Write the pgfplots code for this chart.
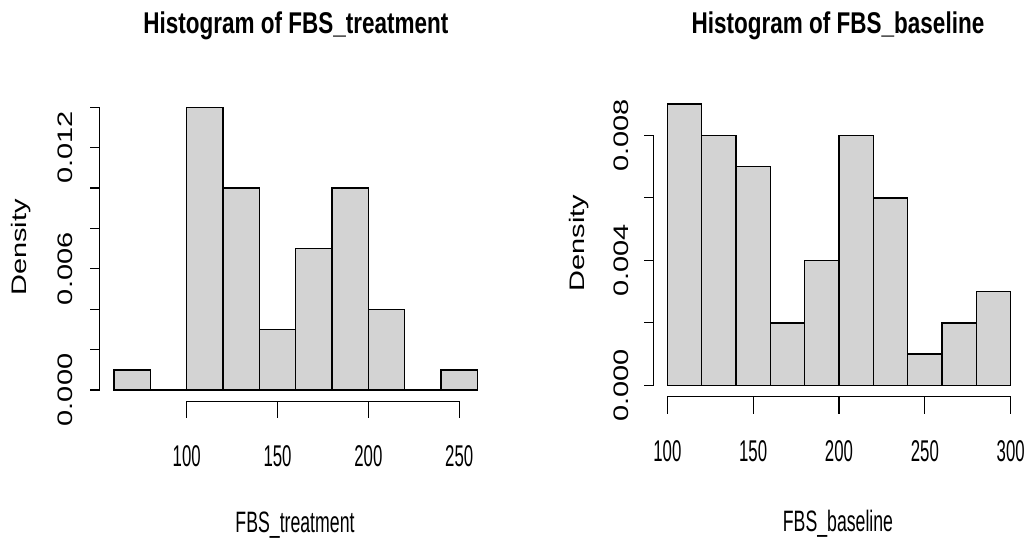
\documentclass[border=0pt]{standalone}
\usepackage{graphicx}
\usepackage{fontspec}
\setmainfont{Liberation Sans}
\usepackage{pgfplots}
\pgfplotsset{compat=1.18}

\definecolor{barfill}{RGB}{211,211,211}

% R draws this picture stretched vertically, so text is squeezed sideways
\newcommand\tit[1]{{\fontsize{30}{36}\selectfont\scalebox{0.75}[1]{\bfseries #1}}}
\newcommand\xl[1]{{\fontsize{30}{36}\selectfont\scalebox{0.56}[1]{#1}}}
\newcommand\yl[1]{{\fontsize{21}{25}\selectfont\scalebox{1.38}[1]{#1}}}
\newcommand\lab[1]{{\fontsize{29.5}{35}\selectfont\scalebox{0.6}[1]{#1}}}

\pgfplotsset{
  rhist/.style={scale only axis, clip=false, hide axis, enlargelimits=false,
    anchor=south west},
  bars/.style={ybar interval, fill=barfill, draw=black, line width=1.4pt},
}
\tikzset{axl/.style={black, line width=1.3pt}}

\begin{document}
\begin{tikzpicture}
\path[use as bounding box] (0,0) rectangle (1026pt,539pt);

% ---- left: FBS_treatment
\begin{axis}[rhist, at={(99.5pt,137.7pt)}, width=392.4pt, height=305.3pt,
  xmin=52, xmax=268, ymin=-0.00056, ymax=0.01456]
\addplot[bars] coordinates {
  (60,0.001) (80,0) (100,0.014) (120,0.010) (140,0.003)
  (160,0.007) (180,0.010) (200,0.004) (220,0) (240,0.001) (260,0.001)};
\draw[axl] (axis cs:100,-0.00056) -- (axis cs:250,-0.00056);
\pgfplotsinvokeforeach{100,150,200,250}{
  \draw[axl] (axis cs:#1,-0.00056) -- ++(0pt,-17pt);
  \node[anchor=center] at ([yshift=-54.5pt]axis cs:#1,-0.00056) {\xl{#1}};
}
\draw[axl] (axis cs:52,0) -- (axis cs:52,0.014);
\pgfplotsinvokeforeach{0,0.002,0.004,0.006,0.008,0.010,0.012,0.014}{
  \draw[axl] (axis cs:52,#1) -- ++(-10pt,0pt);
}
\pgfplotsinvokeforeach{0.000,0.006,0.012}{
  \node[rotate=90] at ([xshift=-34pt]axis cs:52,#1) {\yl{#1}};
}
\end{axis}

% ---- right: FBS_baseline
\begin{axis}[rhist, at={(653.6pt,142.4pt)}, width=370.8pt, height=303.8pt,
  xmin=92, xmax=308, ymin=-0.00036, ymax=0.00936]
\addplot[bars] coordinates {
  (100,0.009) (120,0.008) (140,0.007) (160,0.002) (180,0.004)
  (200,0.008) (220,0.006) (240,0.001) (260,0.002) (280,0.003) (300,0.003)};
\draw[axl] (axis cs:100,-0.00036) -- (axis cs:300,-0.00036);
\pgfplotsinvokeforeach{100,150,200,250,300}{
  \draw[axl] (axis cs:#1,-0.00036) -- ++(0pt,-17pt);
  \node[anchor=center] at ([yshift=-54.5pt]axis cs:#1,-0.00036) {\xl{#1}};
}
\draw[axl] (axis cs:92,0) -- (axis cs:92,0.008);
\pgfplotsinvokeforeach{0,0.002,0.004,0.006,0.008}{
  \draw[axl] (axis cs:92,#1) -- ++(-10pt,0pt);
}
\pgfplotsinvokeforeach{0.000,0.004,0.008}{
  \node[rotate=90] at ([xshift=-32pt]axis cs:92,#1) {\yl{#1}};
}
\end{axis}

% titles and axis labels
\node[anchor=base] at (296pt,505.7pt) {\tit{Histogram of FBS\_treatment}};
\node[anchor=base] at (838pt,505.7pt) {\tit{Histogram of FBS\_baseline}};
\node[anchor=base] at (295pt,7pt) {\lab{FBS\_treatment}};
\node[anchor=base] at (838pt,8pt) {\lab{FBS\_baseline}};
\node[rotate=90] at (21pt,291.5pt) {\yl{Density}};
\node[rotate=90] at (579.5pt,295.7pt) {\yl{Density}};
\end{tikzpicture}
\end{document}
